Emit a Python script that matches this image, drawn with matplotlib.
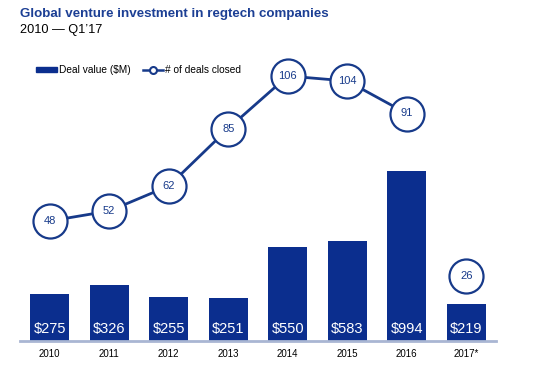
import matplotlib
matplotlib.use('Agg')
from matplotlib import pyplot as plt

plt.rcParams['font.family'] = ['Liberation Sans', 'DejaVu Sans']

years = ['2010', '2011', '2012', '2013', '2014', '2015', '2016', '2017*']
deal_value = [275, 326, 255, 251, 550, 583, 994, 219]
deals_closed = [48, 52, 62, 85, 106, 104, 91, 26]

bar_color = '#0b2e8e'
line_color = '#173a8a'

fig = plt.figure(figsize=(5.48, 3.73), dpi=100)
ax = fig.add_axes([20/548, 32/373, 476/548, 301/373])
x = list(range(len(years)))

ax.bar(x, deal_value, width=0.66, color=bar_color, zorder=2)
for xi, v in zip(x, deal_value):
    ax.text(xi, 70, '$%d' % v, color='white', ha='center', va='center', fontsize=10.5)
ax.set_xlim(-0.5, 7.5)
ax.set_ylim(0, 1760)
ax.set_xticks(x)
ax.set_xticklabels(years, fontsize=7)
ax.tick_params(axis='x', length=0, pad=6)
ax.set_yticks([])
for s in ['top', 'right', 'left']:
    ax.spines[s].set_visible(False)
ax.spines['bottom'].set_color('#a9b6d3')
ax.spines['bottom'].set_linewidth(2)

ax2 = ax.twinx()
ax2.set_ylim(0, 120.4)
ax2.axis('off')
# 2017 is only Q1, so the line stops at 2016
ax2.plot(x[:7], deals_closed[:7], color=line_color, lw=2, zorder=3)
ax2.plot(x, deals_closed, 'o', ms=24.5, mfc='white', mec=line_color, mew=1.6, zorder=4)
for xi, v in zip(x, deals_closed):
    ax2.text(xi, v, str(v), color=line_color, ha='center', va='center', fontsize=8, zorder=5)

fig.text(20/548, 1 - 14/373, 'Global venture investment in regtech companies',
         color='#1c3f94', fontsize=9.6, fontweight='bold', va='center')
fig.text(20/548, 1 - 30/373, '2010 \u2014 Q1\u201917', color='black', fontsize=9.2, va='center')

# legend
fig.patches.append(plt.Rectangle((36/548, 1 - 72/373), 21/548, 5/373,
                                 color=bar_color, transform=fig.transFigure, figure=fig))
fig.text(59/548, 1 - 70/373, 'Deal value ($M)', fontsize=7.3, va='center')
fig.add_artist(plt.Line2D([143/548, 163/548], [1 - 70/373, 1 - 70/373], color=line_color, lw=1.8))
fig.add_artist(plt.Line2D([153/548], [1 - 70/373], marker='o', ms=5, mfc='white',
                          mec=line_color, mew=1.5))
fig.text(165/548, 1 - 70/373, '# of deals closed', fontsize=7.3, va='center')

fig.savefig('out.png', dpi=100)
